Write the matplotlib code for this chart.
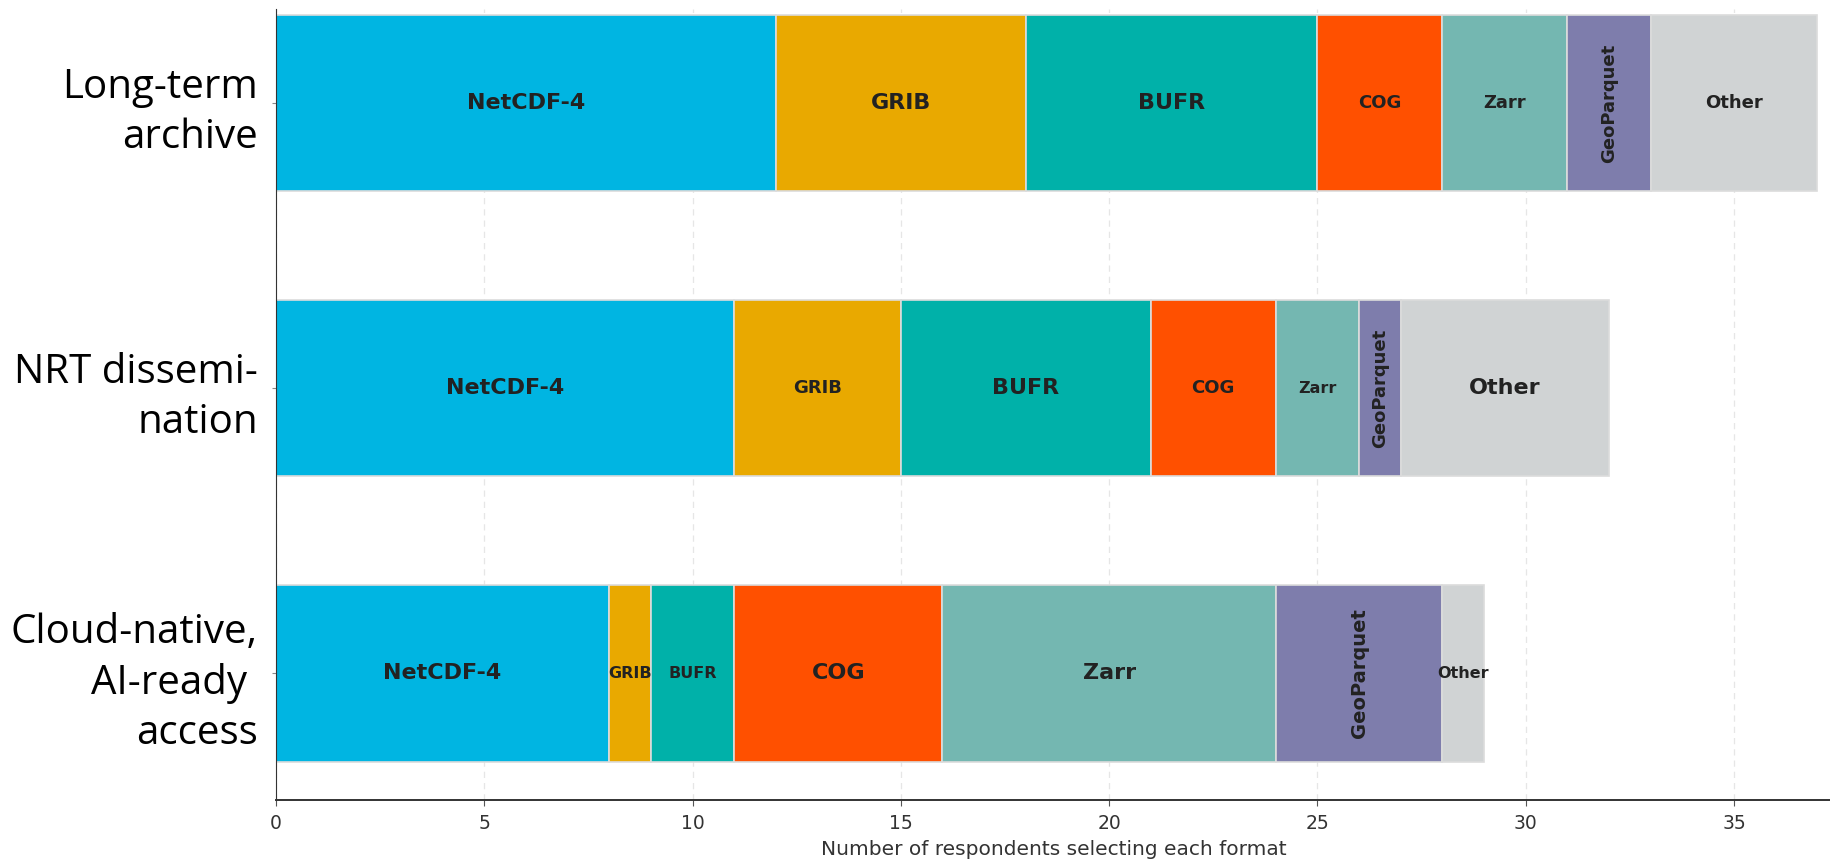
import numpy as np
import matplotlib
matplotlib.use("Agg")
import matplotlib.pyplot as plt

# data
categories = ["Long-term\narchive", "NRT dissemi-\nnation", "Cloud-native,\nAI-ready \naccess"]
formats = ["NetCDF-4", "GRIB", "BUFR", "COG", "Zarr", "GeoParquet", "Other"]
long_term = [12, 6, 7, 3, 3, 2, 4]
nrt = [11, 4, 6, 3, 2, 1, 5]
cloud = [8, 1, 2, 5, 8, 4, 1]
xticks = [0, 5, 10, 15, 20, 25, 30, 35]

colors = ["#00b5e2", "#e9a900", "#00b1a9", "#ff5000", "#74b7b1", "#7e7dac", "#d0d3d4"]

rows = [long_term, nrt, cloud]

W, H = 1831, 865
fig = plt.figure(figsize=(W / 100, H / 100), dpi=100)
ax = fig.add_axes([276 / W, 65 / H, 1 - 276 / W, 791 / H])

y = np.arange(len(categories))
left = np.zeros(len(categories))
for j, fmt in enumerate(formats):
    vals = np.array([r[j] for r in rows], dtype=float)
    ax.barh(y, vals, left=left, height=0.62, color=colors[j],
            edgecolor="#dcdcdc", linewidth=1.2, zorder=2)
    for i in range(len(categories)):
        w = vals[i]
        if w <= 0:
            continue
        cx = left[i] + w / 2
        if fmt == "GeoParquet":
            fs = 14 if w >= 4 else 13
            ax.text(cx, y[i], fmt, rotation=90, ha="center", va="center",
                    fontsize=fs, fontweight="bold", color="#222222", zorder=3)
        else:
            fs = 16 if w >= 5 else (13 if w >= 3 else 11.5)
            ax.text(cx, y[i], fmt, ha="center", va="center",
                    fontsize=fs, fontweight="bold", color="#222222", zorder=3)
    left += vals

ax.set_xlim(0, 37.33)
ax.set_ylim(2.445, -0.33)
ax.set_xticks(xticks)
ax.set_yticks(y)
ax.set_yticklabels(categories, fontfamily="Open Sans", fontsize=29, linespacing=1.32)
ax.tick_params(axis="y", length=3, color="#888888", pad=10)
ax.tick_params(axis="x", labelsize=13.5, length=4, color="#555555",
               labelcolor="#333333", pad=6)
ax.set_xlabel("Number of respondents selecting each format", fontsize=14.5,
              color="#333333", labelpad=5)

ax.grid(axis="x", linestyle=(0, (5, 4)), color="#e6e6e6", linewidth=0.9, zorder=0)
ax.set_axisbelow(True)
for s in ["top", "right"]:
    ax.spines[s].set_visible(False)
ax.spines["left"].set_color("#333333")
ax.spines["bottom"].set_color("#333333")
ax.spines["bottom"].set_linewidth(1.4)

fig.savefig("out.png", dpi=100)
